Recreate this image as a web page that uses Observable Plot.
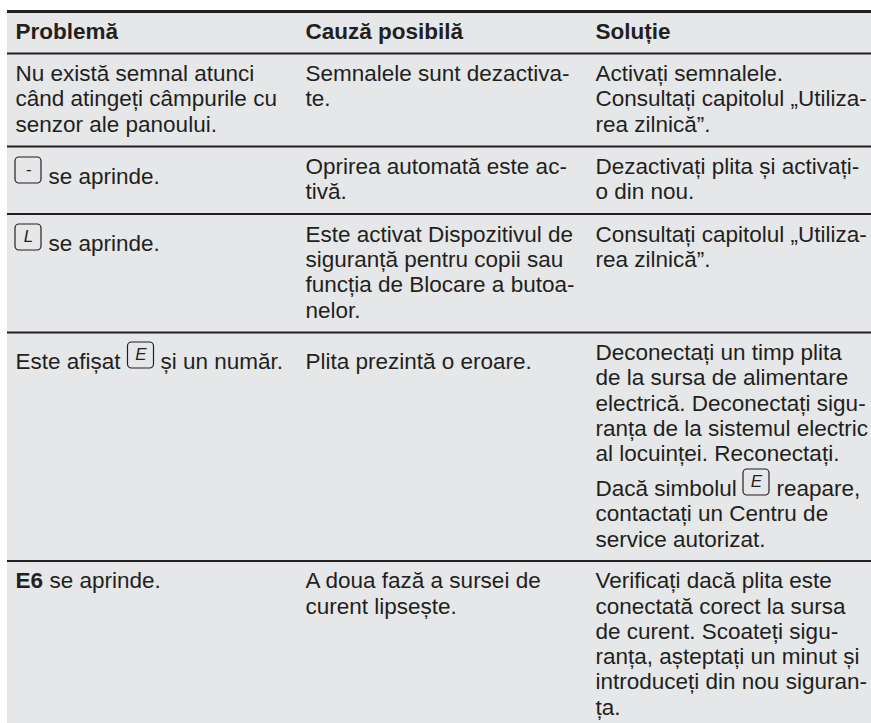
<!DOCTYPE html>
<html><head><meta charset="utf-8">
<script src="https://cdn.jsdelivr.net/npm/d3@7"></script>
<script src="https://cdn.jsdelivr.net/npm/@observablehq/plot@0.6"></script>
<style>html,body{margin:0;padding:0;background:#fff}svg{display:block}</style>
</head><body><div id="c"></div>
<script>
const ink = "#231f20", shade = "#e6e7e8";
const font = "'Liberation Sans', Arial, sans-serif";
const size = 22.5;
const colX = [15, 305, 595];
const headers = ["Problemă", "Cauză posibilă", "Soluție"];
const ruleYs = [53, 146, 213.5, 332, 560.5];
const headerBase = 38;
// [baseline, text]
const bodyCol0 = [
  [80, "Nu există semnal atunci"], [105.5, "când atingeți câmpurile cu"], [131, "senzor ale panoului."]
];
const bodyCol1 = [
  [80, "Semnalele sunt dezactiva-"], [105.5, "te."],
  [173, "Oprirea automată este ac-"], [198.5, "tivă."],
  [241, "Este activat Dispozitivul de"], [266, "siguranță pentru copii sau"], [291.5, "funcția de Blocare a butoa-"], [317, "nelor."],
  [368, "Plita prezintă o eroare."],
  [587.5, "A doua fază a sursei de"], [613, "curent lipsește."]
];
const bodyCol2 = [
  [80, "Activați semnalele."], [105.5, "Consultați capitolul „Utiliza-"], [131, "rea zilnică”."],
  [173, "Dezactivați plita și activați-"], [198.5, "o din nou."],
  [241, "Consultați capitolul „Utiliza-"], [266, "rea zilnică”."],
  [359.5, "Deconectați un timp plita"], [384.5, "de la sursa de alimentare"], [410, "electrică. Deconectați sigu-"], [435, "ranța de la sistemul electric"], [460.5, "al locuinței. Reconectați."],
  [520, "contactați un Centru de"], [546, "service autorizat."],
  [587.5, "Verificați dacă plita este"], [613, "conectată corect la sursa"], [638, "de curent. Scoateți sigu-"], [663.5, "ranța, așteptați un minut și"], [688.5, "introduceți din nou siguran-"], [714, "ța."]
];
const pieces = [
  [48, 183, "se aprinde."], [48, 250, "se aprinde."],
  [15, 368, "Este afișat"], [160, 368, "și un număr."],
  [595, 495, "Dacă simbolul"], [776, 495, "reapare,"],
  [49, 587.5, "se aprinde."]
];
const boldPieces = [[15, 587.5, "E6"]];
const icons = [
  [15, 157, "-"], [15, 224, "L"], [127.5, 342, "E"], [743, 469, "E"]
];
const txt = (x, y, t) => ({x, y, text: t});
const rows = [
  ...bodyCol0.map(d => txt(colX[0], d[0], d[1])),
  ...bodyCol1.map(d => txt(colX[1], d[0], d[1])),
  ...bodyCol2.map(d => txt(colX[2], d[0], d[1])),
  ...pieces.map(d => txt(d[0], d[1], d[2]))
];
const base = {x: "x", y: "y", text: "text", textAnchor: "start", lineAnchor: "bottom", fontFamily: font, fontSize: size, fill: ink};
const chart = Plot.plot({
  width: 871, height: 723,
  marginTop: 0, marginRight: 0, marginBottom: 0, marginLeft: 0,
  style: {background: "#fff"},
  x: {domain: [0, 871], range: [0, 871], axis: null},
  y: {domain: [0, 723], range: [0, 723], axis: null},
  marks: [
    Plot.rect([{x1: 7, x2: 871, y1: 11, y2: 723}], {x1: "x1", x2: "x2", y1: "y1", y2: "y2", fill: shade}),
    Plot.ruleY([11], {x1: 7, x2: 871, stroke: ink, strokeWidth: 3}),
    Plot.ruleY(ruleYs, {x1: 7, x2: 871, stroke: ink, strokeWidth: 2}),
    Plot.text(headers.map((h, i) => txt(colX[i], headerBase, h)), {...base, fontWeight: "bold"}),
    Plot.text(rows, base),
    Plot.text(boldPieces.map(d => txt(d[0], d[1], d[2])), {...base, fontWeight: "bold"}),
    Plot.rect(icons, {x1: d => d[0], x2: d => d[0] + 26, y1: d => d[1], y2: d => d[1] + 26, rx: 4, fill: "none", stroke: ink, strokeWidth: 1.2}),
    Plot.text(icons, {x: d => d[0] + 13, y: d => d[1] + 12, text: d => d[2], fontFamily: font, fontSize: 17, fontStyle: "italic", fill: ink})
  ]
});
document.getElementById("c").append(chart);
</script></body></html>
